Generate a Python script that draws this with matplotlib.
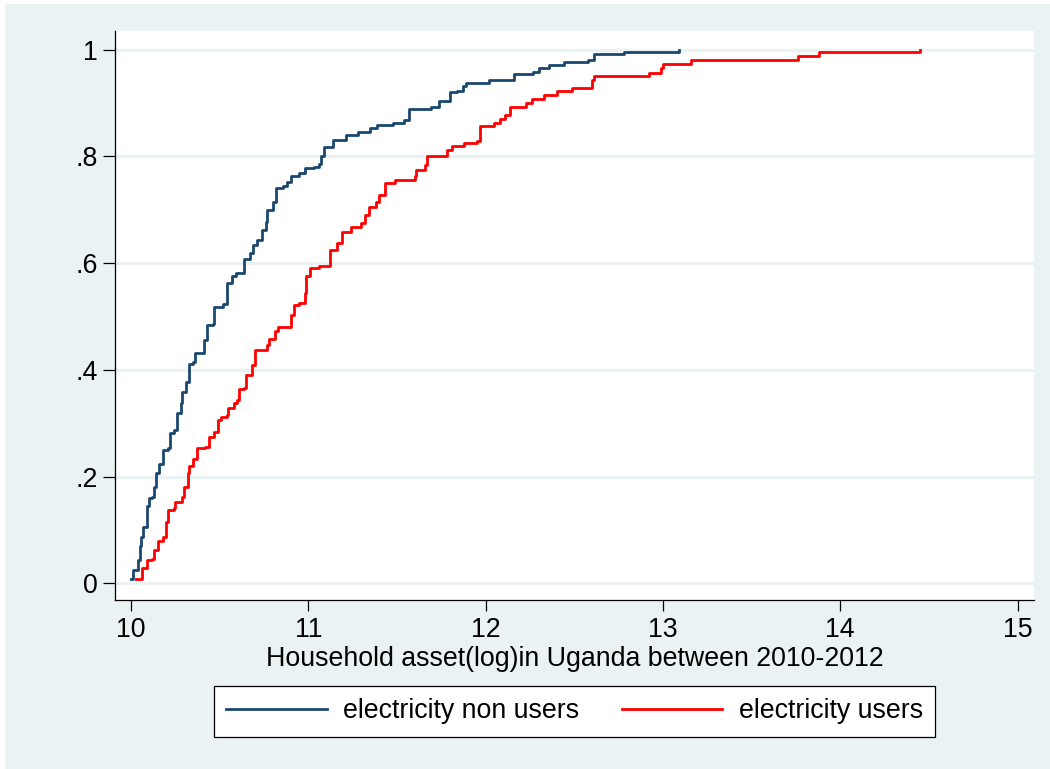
import matplotlib
matplotlib.use("Agg")
import matplotlib.pyplot as plt
from matplotlib.patches import Rectangle

# ---- data ----
nonusers_x = [10.00, 10.01, 10.04, 10.05, 10.055, 10.07, 10.09, 10.10, 10.12, 10.13,
              10.14, 10.16, 10.18, 10.21, 10.22, 10.24, 10.26, 10.28, 10.29, 10.31,
              10.33, 10.35, 10.36, 10.39, 10.41, 10.43, 10.465, 10.47, 10.52, 10.54,
              10.57, 10.59, 10.63, 10.64, 10.67, 10.69, 10.71, 10.74, 10.76, 10.77,
              10.80, 10.82, 10.86, 10.88, 10.90, 10.95, 10.98, 11.03, 11.06, 11.07,
              11.09, 11.14, 11.21, 11.28, 11.35, 11.39, 11.48, 11.54, 11.57, 11.69,
              11.74, 11.80, 11.84, 11.87, 11.89, 12.02, 12.16, 12.27, 12.30, 12.36,
              12.44, 12.58, 12.61, 12.78, 13.09]
nonusers_y = [0.008, 0.025, 0.044, 0.069, 0.087, 0.106, 0.144, 0.159, 0.162, 0.181,
              0.206, 0.224, 0.250, 0.253, 0.282, 0.287, 0.319, 0.337, 0.359, 0.378,
              0.411, 0.415, 0.431, 0.432, 0.456, 0.484, 0.486, 0.518, 0.524, 0.562,
              0.575, 0.582, 0.582, 0.607, 0.619, 0.634, 0.643, 0.662, 0.678, 0.700,
              0.715, 0.740, 0.745, 0.752, 0.763, 0.769, 0.778, 0.781, 0.786, 0.800,
              0.818, 0.831, 0.840, 0.846, 0.853, 0.858, 0.862, 0.868, 0.888, 0.892,
              0.903, 0.921, 0.923, 0.931, 0.938, 0.943, 0.954, 0.959, 0.965, 0.972,
              0.976, 0.981, 0.992, 0.996, 1.000]

users_x = [10.03, 10.06, 10.065, 10.09, 10.12, 10.13, 10.15, 10.18, 10.20, 10.21,
           10.24, 10.25, 10.29, 10.30, 10.32, 10.33, 10.35, 10.37, 10.42, 10.44,
           10.47, 10.49, 10.51, 10.54, 10.55, 10.58, 10.60, 10.61, 10.64, 10.65,
           10.68, 10.70, 10.76, 10.77, 10.78, 10.81, 10.83, 10.89, 10.90, 10.92,
           10.95, 10.98, 10.99, 11.01, 11.06, 11.12, 11.16, 11.19, 11.24, 11.30,
           11.32, 11.34, 11.38, 11.40, 11.43, 11.49, 11.60, 11.61, 11.66, 11.67,
           11.76, 11.78, 11.81, 11.88, 11.95, 11.97, 12.05, 12.08, 12.11, 12.14,
           12.23, 12.26, 12.33, 12.40, 12.49, 12.60, 12.61, 12.92, 12.99, 13.00,
           13.16, 13.76, 13.88, 14.45]
users_y = [0.008, 0.009, 0.029, 0.044, 0.045, 0.062, 0.080, 0.086, 0.115, 0.137,
           0.141, 0.153, 0.161, 0.181, 0.206, 0.220, 0.232, 0.254, 0.256, 0.274,
           0.284, 0.306, 0.312, 0.315, 0.328, 0.337, 0.344, 0.364, 0.366, 0.390,
           0.409, 0.437, 0.437, 0.447, 0.457, 0.472, 0.480, 0.481, 0.503, 0.522,
           0.525, 0.544, 0.575, 0.590, 0.595, 0.625, 0.638, 0.659, 0.668, 0.676,
           0.690, 0.706, 0.714, 0.728, 0.750, 0.756, 0.763, 0.775, 0.783, 0.800,
           0.801, 0.812, 0.820, 0.825, 0.828, 0.857, 0.862, 0.870, 0.878, 0.892,
           0.900, 0.907, 0.915, 0.923, 0.929, 0.943, 0.950, 0.957, 0.965, 0.973,
           0.980, 0.988, 0.995, 1.000]

series_labels = ["electricity non users", "electricity users"]
x_ticks = [10, 11, 12, 13, 14, 15]
y_ticks = [0, 0.2, 0.4, 0.6, 0.8, 1.0]
y_tick_labels = ["0", ".2", ".4", ".6", ".8", "1"]
x_title = "Household asset(log)in Uganda between 2010-2012"

# ---- styling ----
BG = "#EAF2F3"
NAVY = "#1A476F"
RED = "#FF0000"
FS = 19.3
plt.rcParams["font.family"] = ["Liberation Sans", "DejaVu Sans"]

fig = plt.figure(figsize=(10.5, 7.69), dpi=100, facecolor="white")
fig.patches.append(Rectangle((5 / 1050, 0), 1, 1 - 4 / 769, transform=fig.transFigure,
                             facecolor=BG, edgecolor="none", zorder=-10))

ax = fig.add_axes([115 / 1050, 1 - 600 / 769, (1034 - 115) / 1050, (600 - 31) / 769])
ax.set_facecolor("white")

ax.step(nonusers_x, nonusers_y, where="post", color=NAVY, lw=2.0,
        label=series_labels[0], zorder=3)
ax.step(users_x, users_y, where="post", color=RED, lw=2.0,
        label=series_labels[1], zorder=3)

ax.set_xlim(9.91, 15.093)
ax.set_ylim(-0.0313, 1.035)
ax.set_xticks(x_ticks)
ax.set_xticklabels([str(t) for t in x_ticks])
ax.set_yticks(y_ticks)
ax.set_yticklabels(y_tick_labels)

ax.yaxis.grid(True, color=BG, lw=2.4, zorder=0)
ax.xaxis.grid(False)
ax.set_axisbelow(True)

for s in ["top", "right"]:
    ax.spines[s].set_visible(False)
for s in ["left", "bottom"]:
    ax.spines[s].set_color("black")
    ax.spines[s].set_linewidth(0.9)

ax.tick_params(axis="both", labelsize=FS, colors="black", width=0.9)
ax.tick_params(axis="y", length=8.5, pad=4)
ax.tick_params(axis="x", length=8, pad=4)

ax.set_xlabel(x_title, fontsize=FS)
ax.xaxis.set_label_coords(0.5, -0.1037)
ax.xaxis.label.set_va("center")

leg = fig.legend(loc="center", bbox_to_anchor=(574.5 / 1050, 1 - 711.5 / 769),
                 ncol=2, fontsize=FS, frameon=True, fancybox=False,
                 edgecolor="black", facecolor="white", framealpha=1,
                 handlelength=3.75, handletextpad=0.6, columnspacing=1.6,
                 borderpad=0.45)
leg.get_frame().set_linewidth(0.9)

fig.savefig("out.png", dpi=100, facecolor=fig.get_facecolor())
